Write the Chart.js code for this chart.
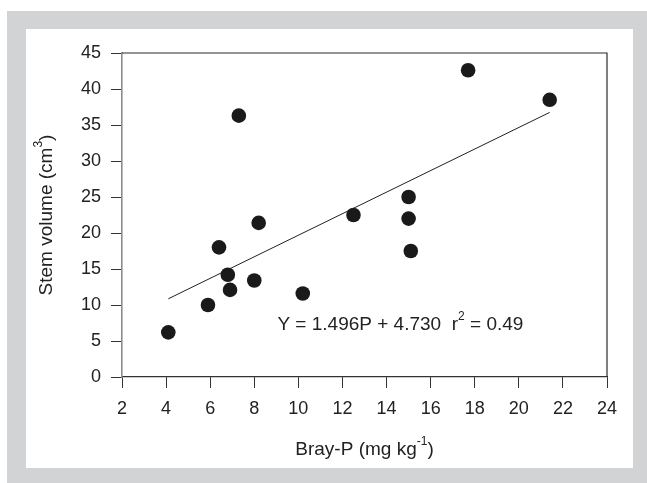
<!DOCTYPE html>
<html>
<head>
<meta charset="utf-8">
<script src="https://cdn.jsdelivr.net/npm/chart.js@4.4.1/dist/chart.umd.min.js"></script>
<style>
  html, body { margin: 0; padding: 0; background: #fff; }
  #wrap { width: 647px; height: 483px; }
</style>
</head>
<body>
<div id="wrap"><canvas id="chart" width="647" height="483"></canvas></div>
<script>
// Bray-P (mg/kg) vs stem volume (cm3)
const brayP = [4.1, 5.9, 6.4, 6.8, 6.9, 7.3, 8.0, 8.2, 10.2, 12.5, 15.0, 15.0, 15.1, 17.7, 21.4];
const stemVolume = [6.2, 10.0, 18.0, 14.2, 12.1, 36.3, 13.4, 21.4, 11.6, 22.5, 25.0, 22.0, 17.5, 42.6, 38.5];

// regression line end points
const fitP = [4.1, 21.4];
const fitVolume = [10.86, 36.75];

const xTicks = [2, 4, 6, 8, 10, 12, 14, 16, 18, 20, 22, 24];
const yTicks = [0, 5, 10, 15, 20, 25, 30, 35, 40, 45];

const equation = [{ t: 'Y = 1.496P + 4.730  r' }, { t: '2', sup: true }, { t: ' = 0.49' }];
const xTitle = [{ t: 'Bray-P (mg kg' }, { t: '-1', sup: true }, { t: ')' }];
const yTitle = [{ t: 'Stem volume (cm' }, { t: '3', sup: true }, { t: ')' }];

const FONT = '"Liberation Sans", Arial, sans-serif';
const TEXT = '#222';

function drawRich(ctx, parts, x, y, size, align) {
    const supSize = Math.round(size * 0.62);
    let total = 0;
    parts.forEach(p => {
        ctx.font = (p.sup ? supSize : size) + 'px ' + FONT;
        p.w = ctx.measureText(p.t).width;
        total += p.w;
    });
    let cx = align === 'center' ? x - total / 2 : x;
    ctx.textAlign = 'left';
    ctx.textBaseline = 'middle';
    ctx.fillStyle = TEXT;
    parts.forEach(p => {
        ctx.font = (p.sup ? supSize : size) + 'px ' + FONT;
        ctx.fillText(p.t, cx, p.sup ? y - size * 0.42 : y);
        cx += p.w;
    });
}

const framePlugin = {
    id: 'frame',
    beforeDraw(chart) {
        const ctx = chart.ctx;
        ctx.save();
        ctx.fillStyle = '#fff';
        ctx.fillRect(0, 0, chart.width, chart.height);
        ctx.fillStyle = '#d1d3d4';
        ctx.fillRect(7, 11, chart.width - 7, chart.height - 11);
        ctx.fillStyle = '#fff';
        ctx.fillRect(26, 29, 607, 439);
        ctx.restore();
    },
    afterDraw(chart) {
        const ctx = chart.ctx;
        const a = chart.chartArea;
        const sx = chart.scales.x, sy = chart.scales.y;
        ctx.save();
        // top and right border
        ctx.strokeStyle = '#2b2b2b';
        ctx.lineWidth = 1.2;
        ctx.beginPath();
        ctx.moveTo(a.left, a.top);
        ctx.lineTo(a.right, a.top);
        ctx.lineTo(a.right, a.bottom);
        ctx.stroke();

        drawRich(ctx, equation, sx.getPixelForValue(9.05), sy.getPixelForValue(7.2), 19, 'left');
        drawRich(ctx, xTitle, (a.left + a.right) / 2, 450, 19, 'center');

        ctx.translate(47, (a.top + a.bottom) / 2);
        ctx.rotate(-Math.PI / 2);
        drawRich(ctx, yTitle, 0, 0, 19, 'center');
        ctx.restore();
    }
};

const ctx = document.getElementById('chart').getContext('2d');
new Chart(ctx, {
    type: 'scatter',
    data: {
        datasets: [
            {
                label: 'Stem volume',
                data: brayP.map((p, i) => ({ x: p, y: stemVolume[i] })),
                backgroundColor: '#1a1a1a',
                borderWidth: 0,
                pointRadius: 7.3,
                order: 1
            },
            {
                label: 'Fit',
                data: fitP.map((p, i) => ({ x: p, y: fitVolume[i] })),
                showLine: true,
                borderColor: '#222',
                borderWidth: 1,
                pointRadius: 0,
                order: 2
            }
        ]
    },
    options: {
        responsive: false,
        animation: false,
        devicePixelRatio: 1,
        layout: { padding: { left: 0, top: 53, right: 40, bottom: 0 } },
        plugins: { legend: { display: false }, tooltip: { enabled: false } },
        scales: {
            x: {
                type: 'linear', min: 2, max: 24,
                afterBuildTicks: s => { s.ticks = xTicks.map(v => ({ value: v })); },
                afterFit: s => { s.height = 106; },
                ticks: { color: TEXT, font: { family: FONT, size: 18 }, padding: 10 },
                grid: { drawOnChartArea: false, drawTicks: true, tickLength: 11, color: '#333', lineWidth: 1 },
                border: { color: '#333', width: 1.2 }
            },
            y: {
                min: 0, max: 45,
                afterBuildTicks: s => { s.ticks = yTicks.map(v => ({ value: v })); },
                afterFit: s => { s.width = 122; },
                ticks: { color: TEXT, font: { family: FONT, size: 18 }, padding: 10 },
                grid: { drawOnChartArea: false, drawTicks: true, tickLength: 11, color: '#333', lineWidth: 1 },
                border: { color: '#8c8c8c', width: 1.6 }
            }
        }
    },
    plugins: [framePlugin]
});
</script>
</body>
</html>
